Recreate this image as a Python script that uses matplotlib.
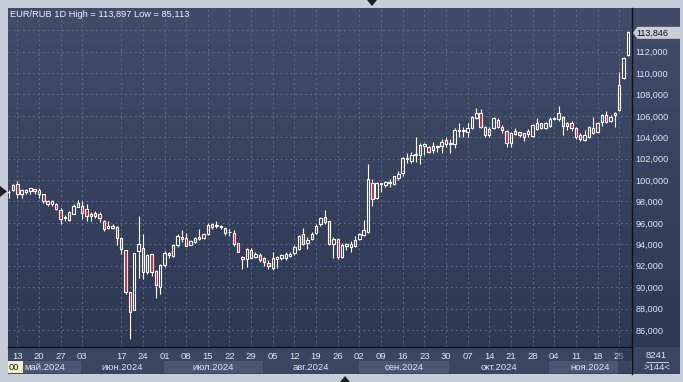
import matplotlib.pyplot as plt
import numpy as np
import pandas as pd
from matplotlib.colors import LinearSegmentedColormap
from matplotlib.patches import Polygon, Rectangle

plt.rcParams['font.family'] = ['Liberation Sans', 'DejaVu Sans']

# EUR/RUB daily candles
holidays = ['2024-05-09', '2024-05-10', '2024-06-12']

opens = [98.85, 99.07, 99.60, 98.67, 98.85, 98.98, 99.16, 99.07, 98.67, 98.07,
         97.80, 97.76, 97.23, 96.43, 96.30, 96.80, 97.50, 97.54, 97.33, 96.83,
         96.61, 96.80, 96.18, 95.55, 95.50, 95.60, 94.60, 93.43, 89.50, 87.83,
         93.40, 93.65, 91.38, 93.06, 91.50, 90.05, 92.07, 93.20, 92.90, 93.93,
         94.71, 94.56, 93.93, 94.25, 94.65, 94.56, 94.96, 95.86, 95.70, 95.60,
         95.50, 95.12, 95.10, 94.09, 92.80, 92.63, 93.50, 92.85, 93.00, 92.75,
         92.25, 91.82, 92.60, 92.75, 92.75, 92.94, 93.16, 93.56, 94.93, 94.09,
         94.46, 95.02, 95.86, 96.58, 96.20, 94.03, 94.47, 92.78, 93.87, 94.00,
         93.87, 94.53, 94.84, 95.18, 99.70, 98.30, 99.60, 99.50, 99.70, 99.63,
         100.22, 100.63, 101.93, 101.80, 102.30, 102.34, 103.20, 103.05, 102.80, 103.10,
         103.20, 103.74, 103.40, 103.33, 104.60, 104.55, 104.52, 104.83, 105.76, 106.23,
         104.20, 104.21, 104.83, 105.61, 104.92, 104.58, 103.43, 104.27, 104.46, 103.99,
         104.55, 104.12, 105.30, 104.83, 104.86, 105.05, 105.70, 105.67, 105.92, 105.30,
         105.30, 104.83, 104.21, 103.74, 104.00, 104.43, 104.52, 105.45, 106.07, 105.55,
         106.10, 106.54, 109.50, 111.68]
highs = [99.07, 99.66, 99.90, 99.20, 99.16, 99.22, 99.20, 99.22, 98.67, 98.17,
         98.14, 97.83, 97.42, 96.74, 97.11, 97.73, 98.17, 98.07, 97.73, 96.98,
         97.11, 97.05, 96.27, 96.17, 95.86, 95.70, 94.70, 93.50, 89.50, 93.22,
         96.64, 94.93, 93.12, 93.12, 91.57, 92.13, 93.37, 93.30, 94.00, 94.93,
         95.34, 95.02, 94.40, 94.71, 95.43, 95.02, 95.96, 95.96, 96.17, 95.80,
         95.55, 95.43, 95.30, 94.15, 92.90, 93.69, 93.69, 93.30, 93.16, 92.85,
         92.54, 93.30, 92.94, 93.06, 93.30, 93.30, 93.93, 94.87, 95.49, 94.71,
         95.12, 95.86, 96.58, 97.20, 96.20, 94.65, 94.56, 94.15, 94.15, 94.34,
         94.77, 95.03, 96.27, 101.50, 100.07, 99.82, 99.70, 99.91, 100.07, 100.38,
         100.85, 102.12, 102.50, 102.62, 104.05, 103.43, 103.43, 103.18, 103.58, 103.27,
         103.80, 103.99, 103.80, 104.83, 105.36, 104.92, 105.36, 105.98, 106.70, 106.60,
         105.05, 104.92, 105.86, 105.77, 105.14, 104.67, 104.52, 104.83, 104.52, 104.43,
         104.74, 105.20, 105.77, 105.36, 105.45, 105.86, 105.86, 106.92, 105.98, 105.45,
         105.52, 104.92, 104.36, 104.67, 105.05, 105.86, 105.42, 106.17, 106.48, 106.07,
         106.39, 110.12, 111.46, 113.897]
lows = [98.35, 99.00, 98.35, 98.35, 98.67, 98.67, 98.73, 98.35, 97.90, 97.60,
        97.60, 97.20, 95.93, 96.18, 96.18, 96.80, 97.48, 96.33, 96.20, 96.20,
        96.42, 96.11, 95.27, 95.43, 95.40, 93.93, 93.10, 89.33, 85.113, 87.83,
        90.88, 90.73, 91.20, 91.07, 89.00, 89.33, 91.90, 92.75, 92.85, 93.78,
        94.25, 93.87, 93.93, 94.15, 94.40, 94.46, 94.87, 95.43, 95.55, 95.43,
        94.87, 94.80, 93.80, 93.25, 91.66, 91.90, 92.70, 92.75, 92.38, 92.00,
        91.70, 91.57, 91.82, 92.53, 92.53, 92.85, 93.00, 93.47, 93.93, 93.56,
        94.40, 94.93, 95.74, 95.90, 93.93, 92.75, 92.60, 92.69, 93.47, 93.31,
        93.75, 94.40, 94.77, 95.09, 97.58, 98.23, 98.90, 99.38, 99.38, 99.54,
        100.00, 100.38, 101.56, 101.62, 101.72, 101.50, 102.34, 102.56, 102.56, 102.65,
        102.50, 103.12, 102.50, 102.96, 103.99, 104.05, 103.99, 104.73, 105.67, 104.83,
        104.05, 104.05, 104.74, 104.83, 104.43, 103.06, 103.06, 104.21, 104.05, 103.68,
        104.05, 104.05, 104.67, 104.74, 104.77, 104.99, 105.61, 105.55, 104.21, 104.67,
        104.61, 103.81, 103.68, 103.68, 103.90, 104.30, 104.43, 105.05, 105.36, 105.45,
        104.92, 106.48, 109.40, 111.61]
closes = [98.90, 99.54, 98.70, 99.04, 99.04, 99.22, 98.95, 98.70, 98.04, 97.80,
          98.00, 97.33, 96.36, 96.58, 96.98, 97.57, 97.86, 96.95, 96.67, 96.61,
          96.92, 96.48, 95.40, 95.74, 95.70, 94.56, 93.56, 89.50, 87.70, 93.16,
          94.00, 91.45, 93.00, 91.38, 90.20, 92.07, 93.22, 92.98, 93.93, 94.77,
          94.46, 93.87, 94.31, 94.56, 94.46, 94.96, 95.80, 95.65, 95.80, 95.70,
          95.10, 95.16, 94.00, 93.30, 92.60, 93.53, 92.75, 93.06, 92.50, 92.32,
          91.93, 92.70, 92.85, 93.00, 93.06, 93.12, 93.72, 94.80, 94.00, 94.40,
          94.93, 95.74, 96.49, 96.05, 94.03, 94.53, 92.85, 93.94, 94.03, 93.75,
          94.40, 94.93, 95.34, 100.10, 98.26, 99.75, 99.70, 99.85, 99.85, 100.38,
          100.57, 102.03, 102.03, 102.34, 102.40, 103.27, 103.33, 102.65, 103.18, 103.20,
          103.52, 103.33, 103.50, 104.67, 104.70, 104.67, 104.83, 105.86, 106.29, 104.93,
          104.99, 104.74, 105.77, 104.99, 104.67, 103.49, 104.36, 104.58, 104.21, 104.36,
          104.30, 105.14, 104.74, 105.30, 105.36, 105.73, 105.76, 106.23, 105.05, 105.05,
          104.83, 103.99, 103.81, 104.21, 104.92, 104.90, 105.36, 106.07, 105.45, 105.92,
          106.23, 108.88, 111.37, 113.846]

tick_days = ['2024-05-13', '2024-05-20', '2024-05-27', '2024-06-03', '2024-06-17',
             '2024-06-24', '2024-07-01', '2024-07-08', '2024-07-15', '2024-07-22',
             '2024-07-29', '2024-08-05', '2024-08-12', '2024-08-19', '2024-08-26',
             '2024-09-02', '2024-09-09', '2024-09-16', '2024-09-23', '2024-09-30',
             '2024-10-07', '2024-10-14', '2024-10-21', '2024-10-28', '2024-11-04',
             '2024-11-11', '2024-11-18', '2024-11-25']
month_names = ['май.2024', 'июн.2024', 'июл.2024', 'авг.2024',
               'сен.2024', 'окт.2024', 'ноя.2024']
price_ticks = list(range(86, 116, 2))

W, H = 683, 382
RED = '#dc1f3c'
TXT = '#dce6f4'
DARK = '#0c1018'


def fmt(v):
    return f'{v:.3f}'.replace('.', ',')


dates = pd.bdate_range('2024-05-07', '2024-11-27')
dates = dates[~dates.isin(pd.to_datetime(holidays))]
x = np.arange(len(dates))
o, h, l, c = map(np.array, (opens, highs, lows, closes))

fig = plt.figure(figsize=(W / 100, H / 100), dpi=100)
fig.patch.set_facecolor('#c5cdd8')

# background panel (pixel coordinates)
bg = fig.add_axes([0, 0, 1, 1])
cmap = LinearSegmentedColormap.from_list('panel', ['#414d68', '#2d3953'])
bg.imshow(np.linspace(0, 1, 256)[:, None], extent=[8, 680, 347, 8], cmap=cmap,
          aspect='auto', interpolation='bilinear')
bg.add_patch(Rectangle((8, 347), 672, 27, color='#3a4660', lw=0))
bg.set_xlim(0, W)
bg.set_ylim(H, 0)
bg.axis('off')

# price chart
ax = fig.add_axes([8 / W, (H - 347) / H, 624 / W, 339 / H])
ax.set_facecolor('none')
ax.set_xlim(-0.15, 143.96)
ax.set_ylim(84.41, 116.07)

top = np.maximum(o, c)
bot = np.minimum(o, c)
up = c >= o
ax.vlines(x, top, h, color='white', lw=0.8, zorder=3)
ax.vlines(x, l, bot, color='white', lw=0.8, zorder=3)
hgt = np.maximum(top - bot, 0.05)
ax.bar(x[up], hgt[up], bottom=bot[up], width=0.56, facecolor='none',
       edgecolor='white', lw=0.8, zorder=4)
ax.bar(x[~up], hgt[~up], bottom=bot[~up], width=0.56, facecolor=RED,
       edgecolor='white', lw=0.8, zorder=4)

tick_pos = dates.get_indexer(pd.to_datetime(tick_days))
ax.set_xticks(tick_pos)
ax.set_xticklabels([d[-2:] for d in tick_days])
ax.set_yticks(price_ticks)
ax.set_yticklabels([fmt(v) if v < 114 else '' for v in price_ticks])
ax.yaxis.tick_right()
ax.tick_params(axis='y', length=0, pad=2.5, labelsize=6.6, labelcolor=TXT)
ax.tick_params(axis='x', length=0, pad=3.5, labelsize=6.8, labelcolor=TXT)
ax.grid(True, color='#5d6b88', lw=0.7, linestyle=(0, (2, 3)))
for s in ['left', 'top']:
    ax.spines[s].set_visible(False)
for s in ['right', 'bottom']:
    ax.spines[s].set_color(DARK)
    ax.spines[s].set_linewidth(1.0)

# month bands under the dates
m = dates.month.values
starts = list(np.where(np.diff(m) != 0)[0] + 1)
x0, x1 = ax.get_xlim()
edges = [x0] + [s - 0.2 for s in starts] + [x1]
xt = ax.get_xaxis_transform()
for j, name in enumerate(month_names):
    a, b = edges[j], edges[j + 1]
    if j % 2 == 0:
        ax.add_patch(Rectangle((a, -0.0776), b - a, 0.0372, transform=xt,
                               color='#4b5772', lw=0, clip_on=False))
    ax.text((a + b) / 2, -0.059, name, transform=xt, ha='center', va='center',
            fontsize=6.8, color=TXT)

# overlay in pixel coordinates
ov = fig.add_axes([0, 0, 1, 1])
ov.set_facecolor('none')
ov.set_xlim(0, W)
ov.set_ylim(H, 0)
ov.axis('off')

title = f'EUR/RUB 1D High = {fmt(h.max())} Low = {fmt(l.min())}'
ov.text(10, 14.5, title, color='#eef2f8', fontsize=6.7, va='center', ha='left')

ov.add_patch(Rectangle((8.3, 360.7), 14.4, 12.6, color='#f1efd3', lw=0))
ov.text(9, 367.3, '00', color='#1a1a1a', fontsize=6.8, va='center', ha='left')
ov.add_patch(Rectangle((618.3, 347.5), 12.7, 26.5, color='#252e44', alpha=0.45, lw=0))
ov.plot([632, 632], [347, 374], color=DARK, lw=1.0)

ov.text(656.5, 355.5, '8241', color=TXT, fontsize=6.8, ha='center', va='center')
ov.plot([646, 668], [361.5, 361.5], color=TXT, lw=0.6)
ov.text(656.5, 367.5, f'>{len(dates)}<', color=TXT, fontsize=6.8, ha='center', va='center')

# last price marker
yl = H - ax.transData.transform((0, c[-1]))[1] + 1
ov.add_patch(Polygon([(633, yl), (637.5, yl - 6), (680, yl - 6), (680, yl + 6),
                      (637.5, yl + 6)], closed=True, color='#c9ced6', lw=0))
ov.text(636.5, yl + 0.3, fmt(c[-1]), color='#111111', fontsize=6.5, va='center', ha='left')

# cursor triangles
for pts in ([(367, 0), (377, 0), (372, 6)],
            [(340, 382), (350, 382), (345, 376)],
            [(0, 186), (0, 197), (7, 191.5)]):
    ov.add_patch(Polygon(pts, closed=True, color='#1b1f27', lw=0))

fig.savefig('out.png', dpi=100)
